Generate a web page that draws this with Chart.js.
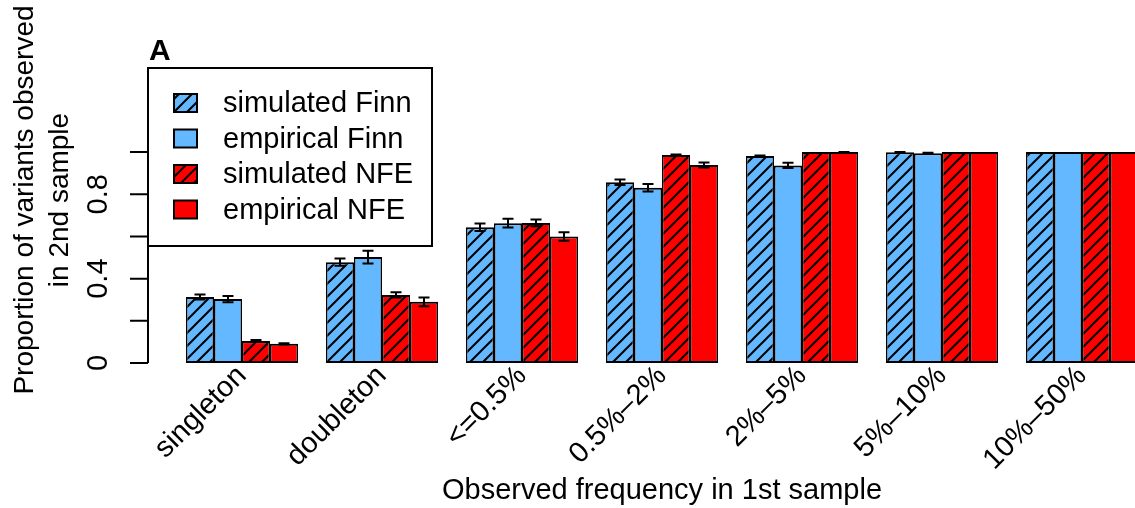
<!DOCTYPE html>
<html>
<head>
<meta charset="utf-8">
<script src="https://cdn.jsdelivr.net/npm/chart.js@4/dist/chart.umd.min.js"></script>
<style>
  html, body { margin: 0; padding: 0; background: #fff; overflow: hidden; }
</style>
</head>
<body>
<canvas id="freq" width="1152" height="508"></canvas>
<script>
// values
const categories = ['singleton', 'doubleton', '<=0.5%', '0.5%\u20132%', '2%\u20135%', '5%\u201310%', '10%\u201350%'];
const seriesNames = ['simulated Finn', 'empirical Finn', 'simulated NFE', 'empirical NFE'];

const simFinn = [0.313, 0.478, 0.644, 0.857, 0.981, 0.999, 1.0];
const empFinn = [0.303, 0.502, 0.663, 0.831, 0.937, 0.994, 1.0];
const simNFE  = [0.104, 0.323, 0.664, 0.986, 1.0, 1.0, 1.0];
const empNFE  = [0.091, 0.290, 0.600, 0.939, 1.0, 1.0, 1.0];

const simFinnErr = [0.012, 0.017, 0.018, 0.013, 0.003, 0.001, 0];
const empFinnErr = [0.015, 0.030, 0.021, 0.018, 0.013, 0.003, 0];
const simNFEErr  = [0.005, 0.013, 0.016, 0.002, 0, 0, 0];
const empNFEErr  = [0.003, 0.021, 0.020, 0.012, 0.001, 0, 0];

const yTicks = [0, 0.2, 0.4, 0.6, 0.8, 1.0];
const yTickLabels = ['0', '', '0.4', '', '0.8', ''];

const blue = '#63B8FF';
const red = '#FF0000';
const font = '"Liberation Sans", Arial, Helvetica, sans-serif';

const canvas = document.getElementById('freq');
const ctx = canvas.getContext('2d');

// diagonal hatch like R's density shading
function hatch(color) {
    const s = 13;
    const c = document.createElement('canvas');
    c.width = s; c.height = s;
    const g = c.getContext('2d');
    g.fillStyle = color;
    g.fillRect(0, 0, s, s);
    g.strokeStyle = '#000';
    g.lineWidth = 2;
    g.beginPath();
    g.moveTo(-1, s + 1); g.lineTo(s + 1, -1);
    g.moveTo(-2, 2); g.lineTo(2, -2);
    g.moveTo(s - 2, s + 2); g.lineTo(s + 2, s - 2);
    g.stroke();
    return ctx.createPattern(c, 'repeat');
}

const fills = [hatch(blue), blue, hatch(red), red];
const values = [simFinn, empFinn, simNFE, empNFE];
const errors = [simFinnErr, empFinnErr, simNFEErr, empNFEErr];

const extras = {
    id: 'extras',
    afterDatasetsDraw(chart) {
        const c = chart.ctx;
        const y = chart.scales.y;
        const area = chart.chartArea;
        c.save();

        // error bars
        c.strokeStyle = '#000';
        c.lineWidth = 2;
        values.forEach((vals, i) => {
            const meta = chart.getDatasetMeta(i);
            vals.forEach((v, j) => {
                const e = errors[i][j];
                if (!e) return;
                const x = meta.data[j].x;
                const lo = y.getPixelForValue(v - e);
                const hi = y.getPixelForValue(v + e);
                c.beginPath();
                c.moveTo(x, lo); c.lineTo(x, hi);
                c.moveTo(x - 5.5, lo); c.lineTo(x + 5.5, lo);
                c.moveTo(x - 5.5, hi); c.lineTo(x + 5.5, hi);
                c.stroke();
            });
        });

        // y axis, R style
        const ax = area.left - 24;
        c.lineWidth = 2;
        c.beginPath();
        c.moveTo(ax, y.getPixelForValue(0));
        c.lineTo(ax, y.getPixelForValue(1));
        yTicks.forEach(t => {
            const py = y.getPixelForValue(t);
            c.moveTo(ax - 18, py);
            c.lineTo(ax, py);
        });
        c.stroke();

        c.fillStyle = '#000';
        c.font = '29px ' + font;
        c.textAlign = 'center';
        c.textBaseline = 'alphabetic';
        yTicks.forEach((t, k) => {
            if (!yTickLabels[k]) return;
            c.save();
            c.translate(ax - 41, y.getPixelForValue(t));
            c.rotate(-Math.PI / 2);
            c.fillText(yTickLabels[k], 0, 0);
            c.restore();
        });

        // y title, two lines
        c.font = '28px ' + font;
        c.save();
        c.translate(0, 200);
        c.rotate(-Math.PI / 2);
        c.fillText('Proportion of variants observed', 0, 33);
        c.fillText('in 2nd sample', 0, 68);
        c.restore();

        // panel letter
        c.font = 'bold 30px ' + font;
        c.textAlign = 'left';
        c.fillText('A', 149, 60);

        // legend
        c.fillStyle = '#fff';
        c.fillRect(148, 68, 284, 178);
        c.lineWidth = 2;
        c.strokeStyle = '#000';
        c.strokeRect(148, 68, 284, 178);
        c.font = '29px ' + font;
        c.textBaseline = 'middle';
        chart.data.datasets.forEach((ds, i) => {
            const cy = 103 + i * 35.5;
            c.fillStyle = ds.backgroundColor;
            c.fillRect(174, cy - 9, 23, 18);
            c.lineWidth = 2;
            c.strokeRect(174, cy - 9, 23, 18);
            c.fillStyle = '#000';
            c.fillText(ds.label, 223, cy + 1);
        });

        c.restore();
    }
};

Chart.defaults.color = '#000';
Chart.defaults.font.family = font;

new Chart(ctx, {
    type: 'bar',
    data: {
        labels: categories,
        datasets: seriesNames.map((name, i) => ({
            label: name,
            data: values[i],
            backgroundColor: fills[i],
            borderColor: '#000',
            borderWidth: { top: 2, bottom: 2, left: 1.5, right: 1.5 },
            borderSkipped: false
        }))
    },
    options: {
        responsive: false,
        animation: false,
        devicePixelRatio: 1,
        barPercentage: 1,
        categoryPercentage: 0.8,
        layout: { padding: { left: 172, right: 0, top: 131, bottom: 0 } },
        plugins: {
            legend: { display: false },
            tooltip: { enabled: false }
        },
        scales: {
            x: {
                grid: { display: false },
                border: { display: false },
                ticks: {
                    autoSkip: false,
                    minRotation: 45,
                    maxRotation: 45,
                    padding: -12,
                    font: { size: 29 }
                },
                title: {
                    display: true,
                    text: 'Observed frequency in 1st sample',
                    font: { size: 29 },
                    padding: 0
                },
                afterFit(scale) { scale.height = 145; }
            },
            y: {
                display: false,
                min: 0,
                max: 1.1
            }
        }
    },
    plugins: [extras]
});
</script>
</body>
</html>
